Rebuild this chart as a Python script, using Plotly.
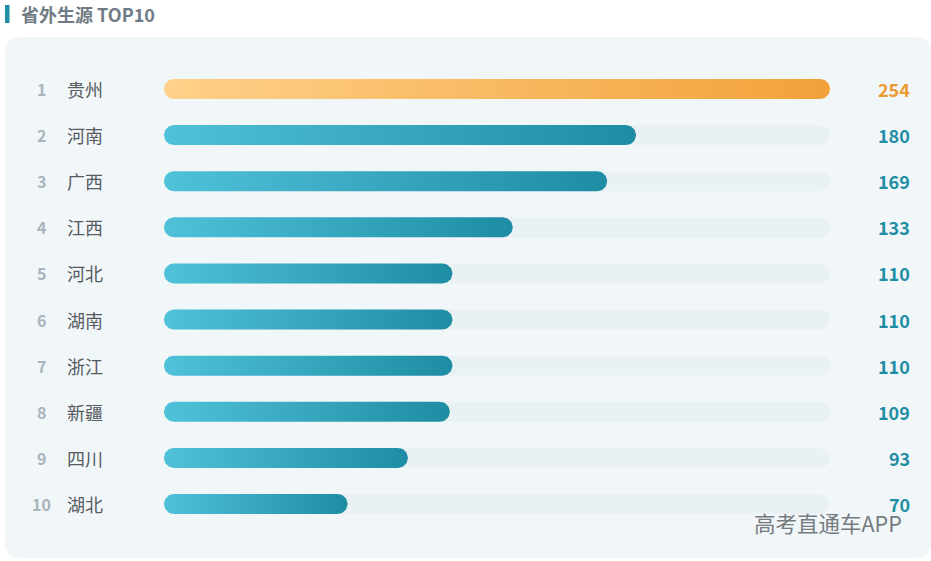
import numpy as np
import plotly.graph_objects as go

ranks = ["1", "2", "3", "4", "5", "6", "7", "8", "9", "10"]
provinces = ["贵州", "河南", "广西", "江西", "河北", "湖南", "浙江", "新疆", "四川", "湖北"]
values = [254, 180, 169, 133, 110, 110, 110, 109, 93, 70]
max_value = 254
title_text = "省外生源 TOP10"
watermark = "高考直通车APP"

W, H = 931, 561
X0_PX, X1_PX = 164, 830          # pixel span of 0 .. max_value
ROW0_PX, ROW_STEP = 89, 46.11    # pixel centre of first row, row spacing
BAR_H = 20                       # bar thickness (px)

ppx = (X1_PX - X0_PX) / max_value
xmin = -X0_PX / ppx
xmax = xmin + W / ppx
ytop = -ROW0_PX / ROW_STEP
ybot = ytop + H / ROW_STEP

ry = (BAR_H / 2) / ROW_STEP       # radius in y data units
rx = (BAR_H / 2) / ppx            # radius in x data units


def pill(x_end, yc):
    t1 = np.linspace(np.pi / 2, 3 * np.pi / 2, 24)
    t2 = np.linspace(-np.pi / 2, np.pi / 2, 24)
    xl = rx + rx * np.cos(t1)
    yl = yc + ry * np.sin(t1)
    xr = (x_end - rx) + rx * np.cos(t2)
    yr = yc + ry * np.sin(t2)
    xs = np.concatenate([xl, xr, xl[:1]])
    ys = np.concatenate([yl, yr, yl[:1]])
    return xs, ys


fig = go.Figure()

teal_scale = [[0, "#4fc1d9"], [1, "#1e8da3"]]
orange_scale = [[0, "#ffd18a"], [1, "#f2a139"]]

for i, v in enumerate(values):
    # track
    xs, ys = pill(max_value, i)
    fig.add_trace(go.Scatter(x=xs, y=ys, mode="lines", fill="toself",
                             fillcolor="#eaf1f4", line=dict(width=0),
                             hoverinfo="skip", showlegend=False))
    xs, ys = pill(v, i)
    fig.add_trace(go.Scatter(
        x=xs, y=ys, mode="lines", fill="toself", line=dict(width=0),
        fillgradient=dict(type="horizontal",
                          colorscale=orange_scale if i == 0 else teal_scale),
        hoverinfo="skip", showlegend=False))

font_family = "Noto Sans CJK SC, Noto Sans, sans-serif"
annotations = []
for i, (r, p, v) in enumerate(zip(ranks, provinces, values)):
    annotations.append(dict(x=41 / W, xref="paper", y=i, yref="y", text=f"<b>{r}</b>",
                            showarrow=False, xanchor="center", yanchor="middle",
                            font=dict(size=16, color="#aab4bc", family=font_family)))
    annotations.append(dict(x=65 / W, xref="paper", y=i, yref="y", text=p,
                            showarrow=False, xanchor="left", yanchor="middle",
                            font=dict(size=18, color="#555b61", family=font_family)))
    annotations.append(dict(x=912 / W, xref="paper", y=i, yref="y", text=f"<b>{v}</b>",
                            showarrow=False, xanchor="right", yanchor="middle",
                            font=dict(size=18, color="#ea9a2e" if i == 0 else "#1f8ea4",
                                      family=font_family)))

annotations.append(dict(x=19 / W, xref="paper", y=1 - 14 / H, yref="paper",
                        text=f"<b>{title_text}</b>", showarrow=False,
                        xanchor="left", yanchor="middle",
                        font=dict(size=18, color="#6f7b85", family=font_family)))
annotations.append(dict(x=904 / W, xref="paper", y=1 - 522 / H, yref="paper",
                        text=watermark, showarrow=False,
                        xanchor="right", yanchor="middle",
                        font=dict(size=21.5, color="#767b7f", family=font_family)))


def px_x(p):
    return p / W


def px_y(p):
    return 1 - p / H


# rounded panel path in paper coordinates
L, T, R, B, rad = 5, 37, 931, 558, 16
path = (f"M {px_x(L + rad)} {px_y(T)} L {px_x(R - rad)} {px_y(T)} "
        f"Q {px_x(R)} {px_y(T)} {px_x(R)} {px_y(T + rad)} "
        f"L {px_x(R)} {px_y(B - rad)} Q {px_x(R)} {px_y(B)} {px_x(R - rad)} {px_y(B)} "
        f"L {px_x(L + rad)} {px_y(B)} Q {px_x(L)} {px_y(B)} {px_x(L)} {px_y(B - rad)} "
        f"L {px_x(L)} {px_y(T + rad)} Q {px_x(L)} {px_y(T)} {px_x(L + rad)} {px_y(T)} Z")

shapes = [
    dict(type="path", xref="paper", yref="paper", path=path,
         fillcolor="#f1f6f9", line=dict(width=0), layer="below"),
    dict(type="rect", xref="paper", yref="paper",
         x0=px_x(5), x1=px_x(9.5), y0=px_y(23), y1=px_y(5),
         fillcolor="#1f8ea4", line=dict(width=0), layer="below"),
]

fig.update_layout(
    width=W, height=H,
    margin=dict(l=0, r=0, t=0, b=0),
    paper_bgcolor="#ffffff", plot_bgcolor="rgba(0,0,0,0)",
    xaxis=dict(range=[xmin, xmax], visible=False, fixedrange=True),
    yaxis=dict(range=[ybot, ytop], visible=False, fixedrange=True),
    annotations=annotations, shapes=shapes,
    showlegend=False,
)

fig.write_html("out.html", config={"displayModeBar": False},
               post_script="document.body.style.margin='0';document.body.style.overflow='hidden';")
